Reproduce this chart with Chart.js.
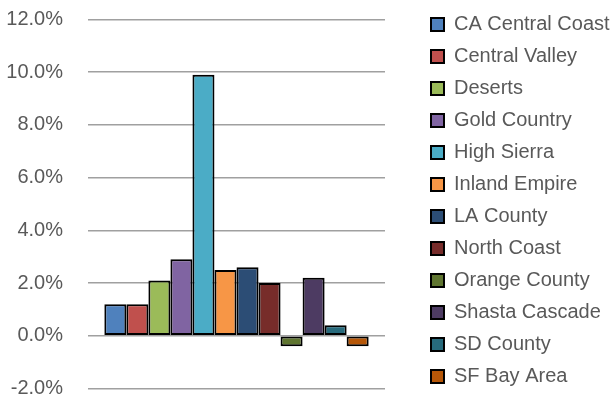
<!DOCTYPE html>
<html>
<head>
<meta charset="utf-8">
<script src="https://cdn.jsdelivr.net/npm/chart.js@4/dist/chart.umd.min.js"></script>
<style>
  html, body { margin: 0; padding: 0; background: #fff; }
  #wrap { width: 616px; height: 401px; }
</style>
</head>
<body>
<div id="wrap"><canvas id="regions"></canvas></div>
<script>
// regions and their change, in percent
const regions = [
  "CA Central Coast", "Central Valley", "Deserts", "Gold Country",
  "High Sierra", "Inland Empire", "LA County", "North Coast",
  "Orange County", "Shasta Cascade", "SD County", "SF Bay Area"
];
const changes = [1.2, 1.2, 2.1, 2.9, 9.9, 2.5, 2.6, 2.0, -0.4, 2.2, 0.4, -0.4];
const colors = [
  "#4F81BD", "#C0504D", "#9BBB59", "#8064A2", "#4BACC6", "#F79646",
  "#2C4D75", "#772C2A", "#5F7530", "#4D3B62", "#276A7C", "#B65708"
];
const yTicks = [-2, 0, 2, 4, 6, 8, 10, 12];

const font = { family: "'Liberation Sans', Arial, sans-serif", size: 20 };

new Chart(document.getElementById("regions"), {
  type: "bar",
  data: {
    labels: [""],
    datasets: regions.map((name, i) => ({
      label: name,
      data: [changes[i]],
      backgroundColor: colors[i],
      borderColor: "#000",
      borderWidth: 2,
      borderSkipped: false,
      categoryPercentage: 0.89,
      barPercentage: 1.0,
    })),
  },
  options: {
    responsive: true,
    maintainAspectRatio: false,
    animation: false,
    layout: { padding: { left: 6, right: 0, top: 0, bottom: 0 } },
    plugins: {
      tooltip: { enabled: false },
      legend: {
        position: "right",
        maxWidth: 197,
        labels: {
          font: font,
          color: "#595959",
          boxWidth: 13,
          boxHeight: 13,
          padding: 12,
        },
      },
    },
    scales: {
      x: { display: false },
      y: {
        min: yTicks[0],
        max: yTicks[yTicks.length - 1],
        afterBuildTicks: (scale) => {
          scale.ticks = yTicks.map((v) => ({ value: v }));
        },
        // fixed label column and room above/below the plot
        afterFit: (scale) => {
          scale.width = 82;
          scale.paddingTop = 19.5;
          scale.paddingBottom = 12.5;
        },
        border: { display: false },
        grid: { color: "#A0A0A0", lineWidth: 1.5, drawTicks: false },
        ticks: {
          font: font,
          color: "#595959",
          padding: 25,
          callback: (v) => v.toFixed(1) + "%",
        },
      },
      // empty spacer between the plot and the legend
      gap: {
        type: "linear",
        position: "right",
        grid: { display: false },
        border: { display: false },
        ticks: { display: false },
        afterFit: (scale) => { scale.width = 34; },
      },
    },
  },
});
</script>
</body>
</html>
